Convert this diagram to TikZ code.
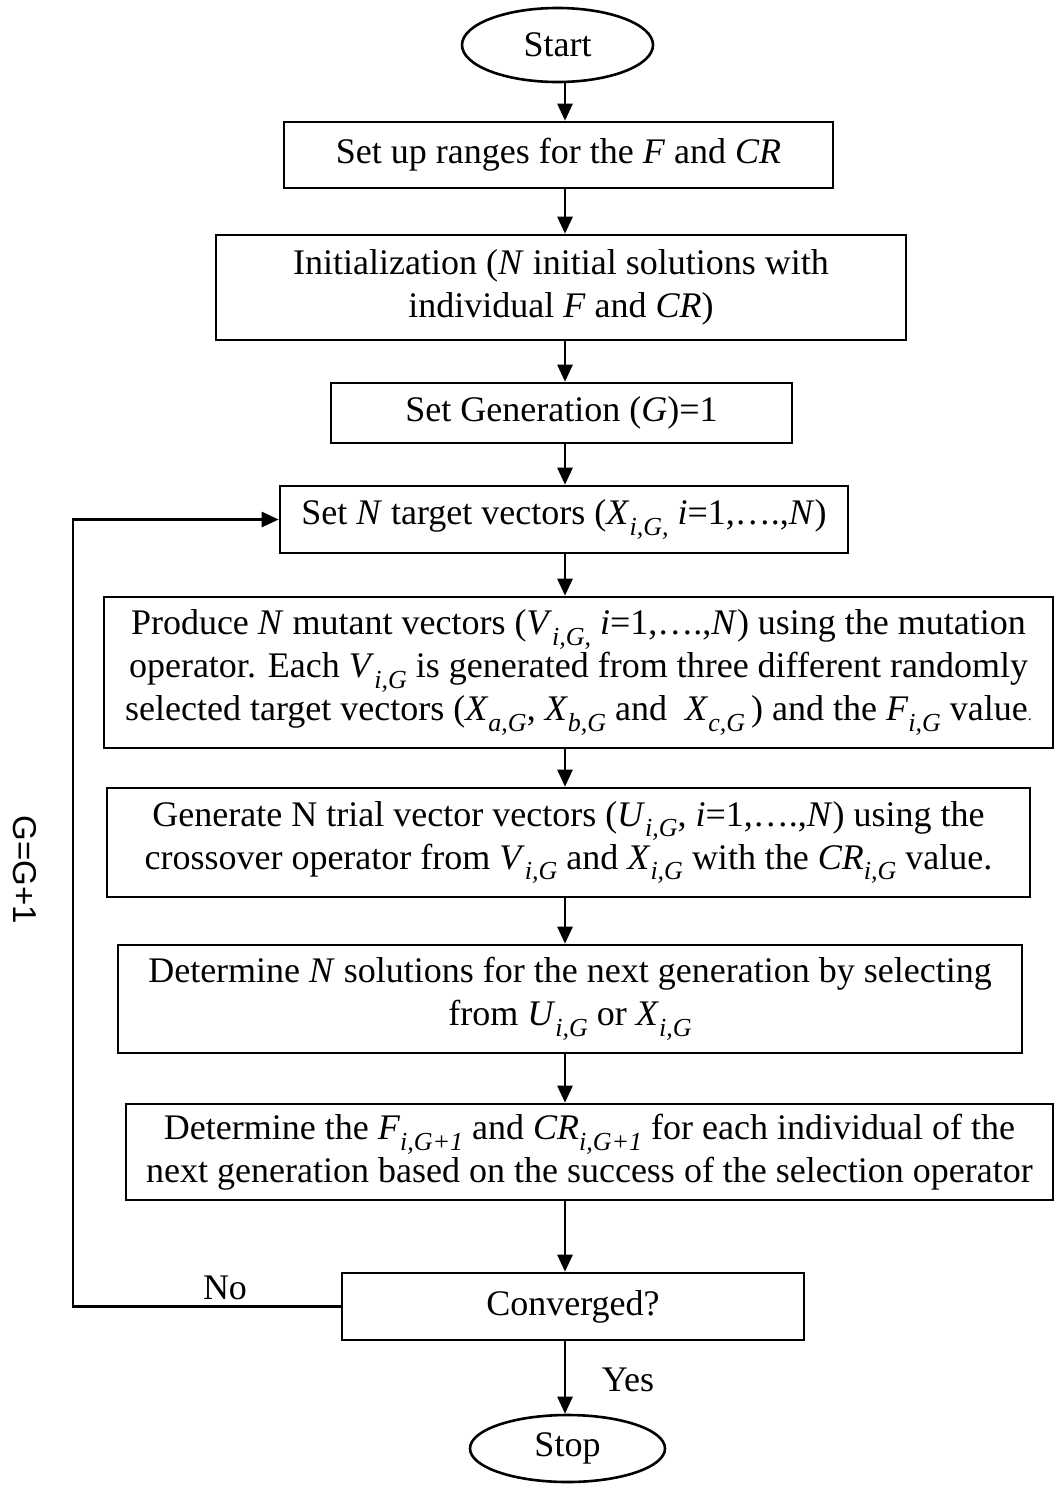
\documentclass[tikz,border=0pt]{standalone}
\usepackage{fontspec}
\setmainfont{Liberation Serif}
\newfontfamily\sansf{Liberation Sans}
\usetikzlibrary{shapes.geometric,arrows.meta}
\newcommand{\sbs}[1]{\raisebox{-0.3em}{\fontsize{26}{26}\selectfont\itshape #1}}
\begin{document}
\begin{tikzpicture}[x=1pt,y=-1pt,
  box/.style={draw,line width=2.6pt,rectangle,align=center,inner sep=0pt,
    font=\fontsize{36}{43}\selectfont},
  term/.style={draw,line width=2.6pt,ellipse,inner sep=0pt,
    font=\fontsize{36}{43}\selectfont},
  arr/.style={line width=2.6pt,-{Triangle[length=17pt,width=15pt]}},
  lbl/.style={inner sep=0pt,font=\fontsize{36}{43}\selectfont}]
\useasboundingbox (0,0) rectangle (1055,1486);
\coordinate (ax) at (565,0);
\coordinate (lx) at (73,0);

\node[term,minimum width=191pt,minimum height=74pt] (start) at (557.5,45) {Start};
\node[box,minimum width=549pt,minimum height=66pt] (b1) at (558.5,155)
  {Set up ranges for the \textit{F} and \textit{CR}};
\node[box,minimum width=690pt,minimum height=105pt] (b2) at (561,287.5)
  {Initialization (\textit{N} initial solutions with\\individual \textit{F} and \textit{CR})};
\node[box,minimum width=461pt,minimum height=60pt] (b3) at (561.5,413)
  {Set Generation (\textit{G})=1};
\node[box,minimum width=568pt,minimum height=67pt] (b4) at (564,519.5)
  {Set \textit{N} target vectors (\textit{X}\sbs{i,G,} \textit{i}=1,….,\textit{N})};
\node[box,minimum width=949pt,minimum height=151pt] (b5) at (578.5,672.5)
  {Produce \textit{N} mutant vectors (\textit{V}\sbs{i,G,} \textit{i}=1,….,\textit{N}) using the mutation\\
   operator. Each \textit{V}\sbs{i,G} is generated from three different randomly\\
   selected target vectors (\textit{X}\sbs{a,G}, \textit{X}\sbs{b,G} and\ \ \textit{X}\sbs{c,G}\,) and the \textit{F}\sbs{i,G} value{\fontsize{16}{16}\selectfont.}};
\node[box,minimum width=923pt,minimum height=109pt] (b6) at (568.5,842.5)
  {Generate N trial vector vectors (\textit{U}\sbs{i,G}, \textit{i}=1,….,\textit{N}) using the\\
   crossover operator from \textit{V}\sbs{i,G}\ and \textit{X}\sbs{i,G} with the \textit{CR}\sbs{i,G} value.};
\node[box,minimum width=904pt,minimum height=108pt] (b7) at (570,999)
  {Determine \textit{N} solutions for the next generation by selecting\\
   from \textit{U}\sbs{i,G} or \textit{X}\sbs{i,G}};
\node[box,minimum width=927pt,minimum height=96pt] (b8) at (589.5,1152)
  {Determine the \textit{F}\sbs{i,G+1} and \textit{CR}\sbs{i,G+1} for each individual of the\\
   next generation based on the success of the selection operator};
\node[box,minimum width=462pt,minimum height=67pt] (b9) at (573,1306.5) {Converged?};
\node[term,minimum width=195pt,minimum height=67pt] (stop) at (567.5,1448.5) {Stop};

\draw[arr] (start.south -| ax) -- (b1.north -| ax);
\draw[arr] (b1.south -| ax) -- (b2.north -| ax);
\draw[arr] (b2.south -| ax) -- (b3.north -| ax);
\draw[arr] (b3.south -| ax) -- (b4.north -| ax);
\draw[arr] (b4.south -| ax) -- (b5.north -| ax);
\draw[arr] (b5.south -| ax) -- (b6.north -| ax);
\draw[arr] (b6.south -| ax) -- (b7.north -| ax);
\draw[arr] (b7.south -| ax) -- (b8.north -| ax);
\draw[arr] (b8.south -| ax) -- (b9.north -| ax);
\draw[arr] (b9.south -| ax) -- (stop.north -| ax);
\draw[arr] (b9.west) -- (b9.west -| lx) |- (b4.west);

\node[lbl] (no) at (225,1288) {No};
\node[lbl] (yes) at (628,1380) {Yes};
\node[inner sep=0pt,rotate=-90,font=\sansf\fontsize{33}{33}\selectfont] (gg) at (25,870) {G=G+1};
\end{tikzpicture}
\end{document}
